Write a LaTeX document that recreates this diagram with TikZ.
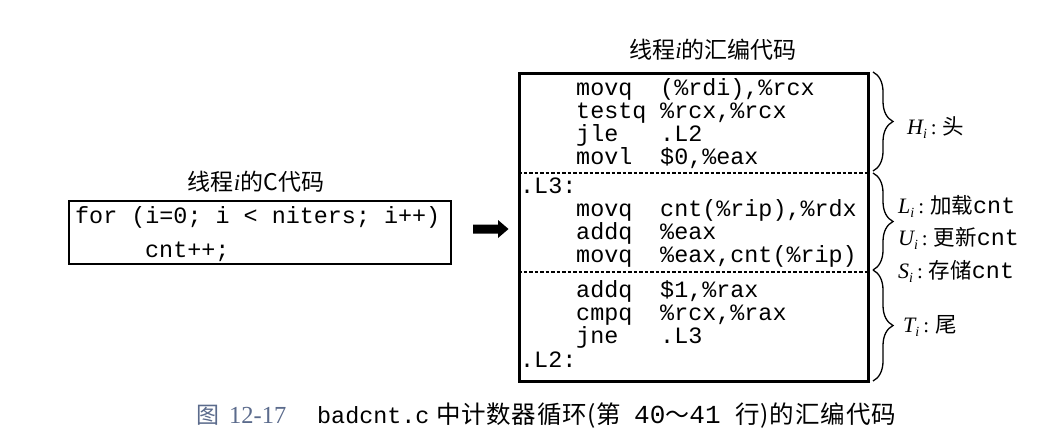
\documentclass[tikz,border=0pt]{standalone}
\usepackage{fontspec}
\setmainfont{Liberation Serif}
\setmonofont{Liberation Mono}
\newfontfamily\cjk{Noto Sans CJK SC}
\usetikzlibrary{decorations.pathreplacing}
\definecolor{capblue}{HTML}{5B6B8C}
\newcommand\lblsym[1]{{\fontsize{22}{22}\selectfont\itshape #1}\raisebox{-4pt}{\fontsize{14}{14}\selectfont\itshape i}\hspace{4pt}{\fontsize{21}{21}\selectfont :}\hspace{6pt}}
\newcommand\lblcjk[1]{{\fontsize{21.5}{21.5}\selectfont\cjk #1}}
\newcommand\lbltt[1]{{\fontsize{23.4}{23.4}\selectfont\ttfamily #1}}
\begin{document}
\begin{tikzpicture}[x=1pt,y=-1pt,
  code/.style={anchor=base west,inner sep=0pt,font=\fontsize{23.4}{23.4}\selectfont\ttfamily},
  ttl/.style={anchor=base,inner sep=0pt,font=\fontsize{23}{23}\selectfont\cjk},
  lab/.style={anchor=base west,inner sep=0pt},
  captxt/.style={anchor=base west,inner sep=0pt},
  codebox/.style={draw,inner sep=0pt,anchor=north west},
  sep/.style={line width=1.1pt,dash pattern=on 3.5pt off 2pt},
  brc/.style={decorate,decoration={brace,amplitude=20pt},line width=1.3pt}]
\useasboundingbox (0,0) rectangle (1056,444);
% titles
\node[ttl] (tc) at (256,190) {线程{\rmfamily\itshape i}的C代码};
\node[ttl] (ta) at (713,59) {线程{\rmfamily\itshape i}的汇编代码};
% C box
\node[codebox,line width=2pt,minimum width=382pt,minimum height=63pt] (cbox) at (68,200) {};
\node[code] (c1) at (75,223) {for (i=0; i < niters; i++)};
\node[code] (c2) at (145,257) {cnt++;};
% arrow
\fill (473,224.5) -- (498,224.5) -- (498,220) -- (508.5,229) -- (498,238) -- (498,233.5) -- (473,233.5) -- cycle;
% assembly box
\node[codebox,line width=2.6pt,minimum width=349pt,minimum height=308pt] (abox) at (518,72) {};
\coordinate (d1l) at (518,173); \coordinate (d1r) at (867,173);
\coordinate (d2l) at (518,272); \coordinate (d2r) at (867,272);
\draw[sep] (d1l) -- (d1r);
\draw[sep] (d2l) -- (d2r);
% code lines
\node[code] (a1m) at (576,95) {movq};  \node[code] (a1o) at (660,95) {(\%rdi),\%rcx};
\node[code] (a2m) at (576,118) {testq}; \node[code] (a2o) at (660,118) {\%rcx,\%rcx};
\node[code] (a3m) at (576,141) {jle};   \node[code] (a3o) at (660,141) {.L2};
\node[code] (a4m) at (576,164) {movl};  \node[code] (a4o) at (660,164) {\$0,\%eax};
\node[code] (a5)  at (520,193) {.L3:};
\node[code] (a6m) at (576,216) {movq};  \node[code] (a6o) at (660,216) {cnt(\%rip),\%rdx};
\node[code] (a7m) at (576,239) {addq};  \node[code] (a7o) at (660,239) {\%eax};
\node[code] (a8m) at (576,262) {movq};  \node[code] (a8o) at (660,262) {\%eax,cnt(\%rip)};
\node[code] (a9m) at (576,297) {addq};  \node[code] (a9o) at (660,297) {\$1,\%rax};
\node[code] (a10m) at (576,320) {cmpq}; \node[code] (a10o) at (660,320) {\%rcx,\%rax};
\node[code] (a11m) at (576,343) {jne};  \node[code] (a11o) at (660,343) {.L3};
\node[code] (a12) at (520,367) {.L2:};
% braces
\coordinate (b1a) at (873,72);  \coordinate (b1b) at (873,171);
\coordinate (b2a) at (873,173); \coordinate (b2b) at (873,270);
\coordinate (b3a) at (873,270); \coordinate (b3b) at (873,381);
\draw[brc] (b1a) -- (b1b);
\draw[brc] (b2a) -- (b2b);
\draw[brc] (b3a) -- (b3b);
% labels
\node[lab] (lh) at (907,134) {\lblsym{H}\lblcjk{头}};
\node[lab] (ll) at (898,213) {\lblsym{L}\lblcjk{加载}\lbltt{cnt}};
\node[lab] (lu) at (898,245) {\lblsym{U}\lblcjk{更新}\lbltt{cnt}};
\node[lab] (ls) at (898,278) {\lblsym{S}\lblcjk{存储}\lbltt{cnt}};
\node[lab] (lt) at (903,332) {\lblsym{T}\lblcjk{尾}};
% caption
\node[captxt,text=capblue] (k1) at (196,423) {{\fontsize{23}{23}\selectfont\cjk 图}\hspace{10pt}{\fontsize{24.5}{24.5}\selectfont 12-17}};
\node[captxt] (k2) at (317,423) {\lbltt{badcnt.c}};
\node[captxt] (k3) at (436,423) {\fontsize{24.5}{24.5}\selectfont\cjk\addfontfeature{LetterSpace=3}中计数器循环(第};
\node[captxt] (k4) at (634,423) {{\fontsize{26}{26}\selectfont\ttfamily 40}{\fontsize{24}{24}\selectfont\cjk ～}{\fontsize{26}{26}\selectfont\ttfamily 41}};
\node[captxt] (k5) at (735,423) {\fontsize{24.5}{24.5}\selectfont\cjk\addfontfeature{LetterSpace=4}行)的汇编代码};
\end{tikzpicture}
\end{document}
